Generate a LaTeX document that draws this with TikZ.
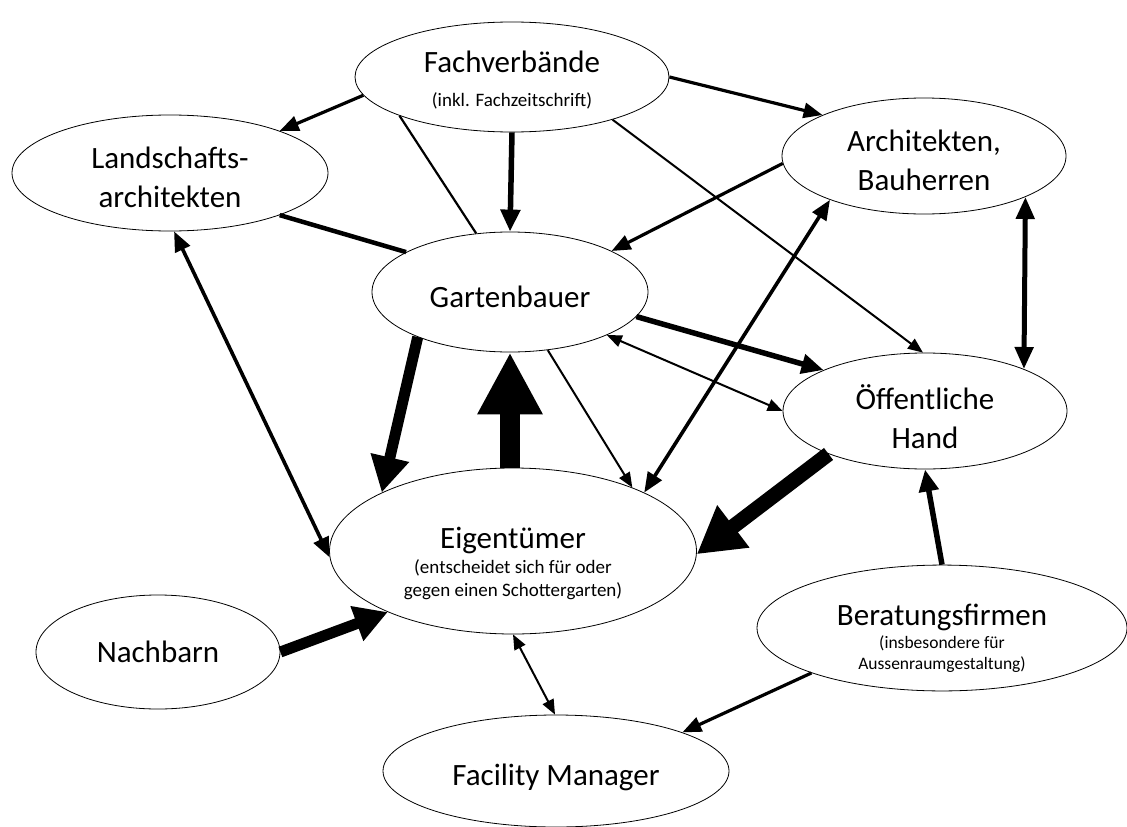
\documentclass[tikz,border=0pt]{standalone}
\usepackage{fontspec}
\setmainfont{Carlito}
\usetikzlibrary{shapes.geometric,arrows.meta}

\newcommand{\subtxt}[1]{{\fontsize{19}{22}\selectfont #1}}
\newcommand{\smalltxt}[1]{{\fontsize{17.5}{21}\selectfont #1}}

\tikzset{
  actor/.style={draw, ellipse, inner sep=0pt, align=center, line width=0.8pt,
    font=\fontsize{31}{39}\selectfont},
  thin/.style={line width=2pt, -{Triangle[length=15pt,width=12pt]}},
  thinboth/.style={line width=2pt, {Triangle[length=15pt,width=12pt]}-{Triangle[length=15pt,width=12pt]}},
  medarr/.style={line width=3.2pt, -{Triangle[length=19pt,width=15pt]}},
  medboth/.style={line width=3.6pt, {Triangle[length=20pt,width=16pt]}-{Triangle[length=20pt,width=16pt]}},
  plain/.style={line width=2.2pt},
  thickline/.style={line width=4.5pt},
  thick/.style={line width=5.5pt, -{Triangle[length=22pt,width=19pt]}},
  thickboth/.style={line width=5pt, {Triangle[length=22pt,width=18pt]}-{Triangle[length=22pt,width=18pt]}},
  heavy/.style={line width=11pt, -{Triangle[length=36pt,width=37pt]}},
  huge/.style={line width=20pt, -{Triangle[length=62pt,width=61pt]}},
}

\begin{document}
\begin{tikzpicture}[x=1pt,y=-1pt]
\useasboundingbox (0,0) rectangle (1127,827);

% actors
\node[actor, minimum width=314pt, minimum height=110pt] (fach) at (512,77)
  {\rule{0pt}{27pt}Fachverbände\\[-5pt]\subtxt{(inkl. Fachzeitschrift)}};
\node[actor, minimum width=316pt, minimum height=116pt] (land) at (170,173)
  {\rule{0pt}{31pt}Landschafts-\\architekten};
\node[actor, minimum width=284pt, minimum height=116pt] (arch) at (924,156)
  {\rule{0pt}{31pt}Architekten,\\Bauherren};
\node[actor, minimum width=276pt, minimum height=120pt] (gart) at (510,292)
  {\rule{0pt}{32pt}Gartenbauer};
\node[actor, minimum width=284pt, minimum height=116pt] (oeff) at (925,411)
  {\rule{0pt}{36pt}Öffentliche\\Hand};
\node[actor, minimum width=367pt, minimum height=166pt] (eig) at (513,551)
  {\rule{0pt}{46pt}Eigentümer\\[-14pt]\subtxt{(entscheidet sich für oder}\\[-16pt]\subtxt{gegen einen Schottergarten)}};
\node[actor, minimum width=244pt, minimum height=114pt] (nach) at (158,652)
  {Nachbarn};
\node[actor, minimum width=370pt, minimum height=116pt] (berat) at (942,628)
  {\rule{0pt}{42pt}Beratungsfirmen\\[-16pt]\smalltxt{(insbesondere für}\\[-18pt]\smalltxt{Aussenraumgestaltung)}};
\node[actor, minimum width=346pt, minimum height=112pt] (fac) at (556,771)
  {\rule{0pt}{34pt}Facility Manager};

% connections
\draw[medarr] (fach.187) -- (land.21);
\draw[medarr] (fach.0) -- (arch.158);
\draw[thick] (fach.south) -- (gart.north);
\draw[plain] (fach.199) -- (gart.120);
\draw[thin] (fach.337) -- (oeff.92);
\draw[thickline] (land.339) -- (gart.159);
\draw[medboth] (land.-86) -- (eig.182);
\draw[medarr] (arch.183) -- (gart.22);
\draw[medboth] (arch.205) -- (eig.24);
\draw[thickboth] (arch.-22) -- (oeff.23.5);
\draw[thick] (gart.-11) -- (oeff.158);
\draw[thinboth] (gart.-24) -- (oeff.180);
\draw[heavy] (gart.206) -- (eig.156);
\draw[huge] (gart.south |- eig.north) -- (gart.south);
\draw[thin] (gart.303) -- (eig.28);
\draw[huge, line width=15pt, -{Triangle[length=46pt,width=50pt]}] (oeff.204) -- (eig.-1);
\draw[heavy, -{Triangle[length=33pt,width=35pt]}] (nach.0) -- (eig.206);
\draw[thinboth] (eig.-90) -- (fac.91);
\draw[thick] (berat.north) -- (oeff.south);
\draw[medarr] (berat.199) -- (fac.17);
\end{tikzpicture}
\end{document}
